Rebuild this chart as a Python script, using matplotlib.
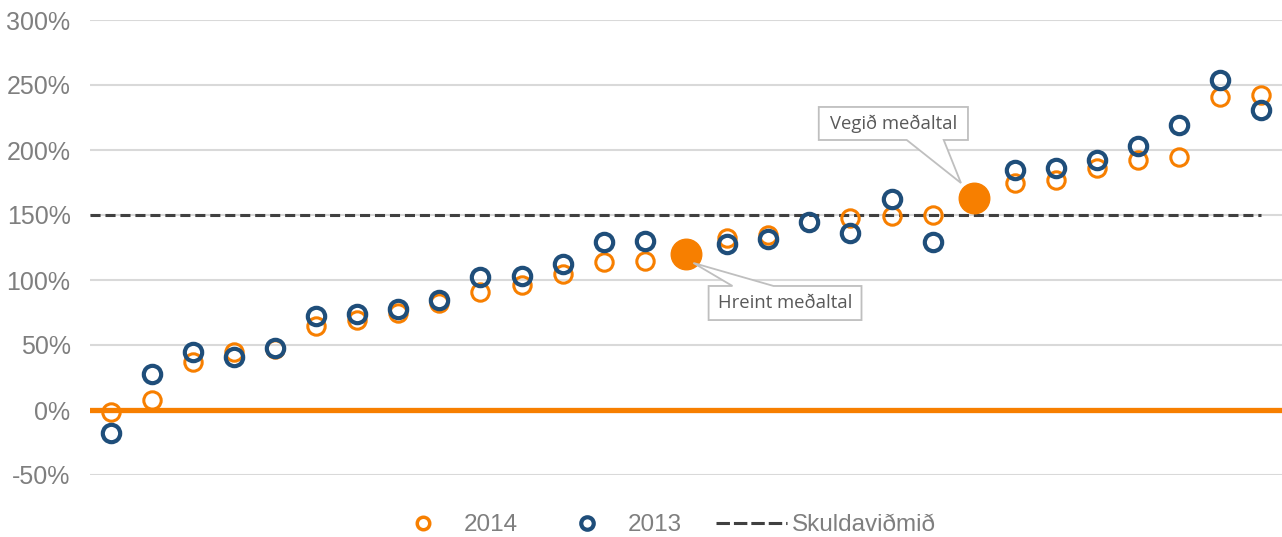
import matplotlib as mpl
mpl.use('Agg')
import matplotlib.pyplot as plt
from matplotlib.lines import Line2D
from matplotlib.patches import Polygon
import numpy as np

# values in % (positions 15 and 22 hold the averages instead)
pos = np.arange(1, 30)
v2014 = [-1.5, 8, 37, 45, 47, 65, 69, 75, 82, 91, 96, 105, 114, 115, np.nan,
         132, 135, 145, 148, 149, 150, np.nan, 175, 177, 186, 192, 195, 241, 242]
v2013 = [-18, 28, 45, 41, 48, 72, 74, 78, 85, 102, 103, 112, 129, 130, np.nan,
         128, 131.5, 145, 136, 162, 129, np.nan, 185, 186, 192, 203, 219, 254, 231]
avg_pos = [15, 22]
avg_val = [120, 163]
avg_labels = ['Hreint meðaltal', 'Vegið meðaltal']
benchmark = 150
yticks = [-50, 0, 50, 100, 150, 200, 250, 300]

ORANGE = '#F77F00'
BLUE = '#1F4E7A'
GREY_TXT = '#7F7F7F'

fig = plt.figure(figsize=(12.82, 5.37), dpi=100)
ax = fig.add_axes([90 / 1282, 62 / 537, 1192 / 1282, 455 / 537])
ax.set_xlim(0.5, 29.5)
ax.set_ylim(-50, 300)

ax.set_yticks(yticks)
ax.set_yticklabels([f'{t}%' for t in yticks], fontsize=18, color=GREY_TXT,
                   family='Liberation Sans')
ax.tick_params(axis='y', length=0, pad=14)
ax.set_xticks([])
for s in ax.spines.values():
    s.set_visible(False)
ax.grid(axis='y', color='#D9D9D9', lw=1.5)
ax.set_axisbelow(True)

# zero line and benchmark
ax.axhline(0, color=ORANGE, lw=3.8, zorder=2)
ax.plot([0.5, 29], [benchmark, benchmark], color='#404040', lw=2.2,
        ls=(0, (3.3, 1.6)), zorder=2)

ax.plot(pos, v2014, ls='none', marker='o', ms=12.5, mfc='none', mec=ORANGE,
        mew=2.2, zorder=3)
ax.plot(pos, v2013, ls='none', marker='o', ms=12.5, mfc='none', mec=BLUE,
        mew=3.0, zorder=4)
ax.plot(avg_pos, avg_val, ls='none', marker='o', ms=22, mfc=ORANGE,
        mec=ORANGE, zorder=5)

# callout boxes
callouts = [
    # box x0, x1, y0, y1, wedge base x0, x1, tip, base on top?
    (15.55, 19.27, 69.2, 95.4, 16.13, 17.13, (15.18, 113.1), True),
    (18.23, 21.86, 207.7, 233.1, 20.37, 21.27, (21.69, 174.6), False),
]
for (x0, x1, y0, y1, w0, w1, tip, top), lab in zip(callouts, avg_labels):
    if top:
        pts = [(x0, y0), (x0, y1), (w0, y1), tip, (w1, y1), (x1, y1), (x1, y0)]
    else:
        pts = [(x0, y0), (x0, y1), (x1, y1), (x1, y0), (w1, y0), tip, (w0, y0)]
    ax.add_patch(Polygon(pts, closed=True, fc='white', ec='#BFBFBF', lw=1.3,
                         zorder=6))
    ax.text((x0 + x1) / 2, (y0 + y1) / 2, lab, ha='center', va='center',
            fontsize=13.3, color='#595959', family='Open Sans', zorder=7)

handles = [
    Line2D([], [], ls='none', marker='o', ms=9, mfc='none', mec=ORANGE, mew=2.5),
    Line2D([], [], ls='none', marker='o', ms=9, mfc='none', mec=BLUE, mew=3),
    Line2D([], [], color='#404040', lw=2.2, ls=(0, (4.4, 1.3))),
]
fig.legend(handles, ['2014', '2013', 'Skuldaviðmið'], loc='center',
           bbox_to_anchor=(662 / 1282, 1 - 525 / 537), ncol=3, frameon=False,
           prop={'family': 'Liberation Sans', 'size': 17.5}, labelcolor=GREY_TXT,
           handlelength=2.9, handletextpad=0.22, columnspacing=1.4)

fig.savefig('out.png', dpi=100)
